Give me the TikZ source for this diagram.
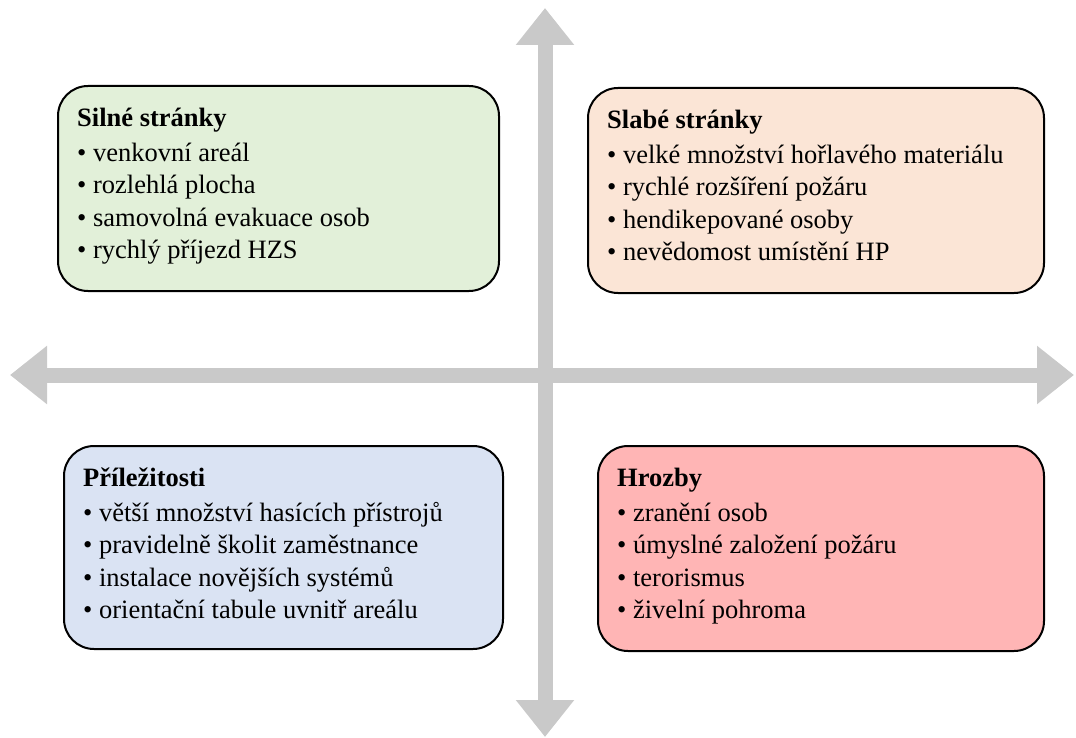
\documentclass[tikz,border=0pt]{standalone}
\usepackage{fontspec}
\setmainfont{Liberation Serif}
\usetikzlibrary{arrows.meta}
\definecolor{strongfill}{HTML}{E2F0D9}
\definecolor{weakfill}{HTML}{FBE5D6}
\definecolor{chancefill}{HTML}{DAE3F3}
\definecolor{threatfill}{HTML}{FFB5B5}
\definecolor{axisgray}{HTML}{C9C9C9}
\tikzset{
  quad/.style={draw=black, line width=2pt, rounded corners=30pt,
               anchor=north west, inner sep=0pt},
  quadtext/.style={anchor=north west, align=left, inner sep=0pt,
                   font=\fontsize{26.5}{32.5}\selectfont},
  axisline/.style={draw=axisgray, line width=15pt,
                   {Triangle[width=56pt,length=37pt]}-{Triangle[width=56pt,length=37pt]}},
}

\begin{document}
\begin{tikzpicture}[x=1pt, y=-1pt]
    \useasboundingbox (0,0) rectangle (1076,738);
    % axes
    \coordinate (ytop) at (545,8);
    \coordinate (ybot) at (545,737);
    \coordinate (xleft) at (10,375);
    \coordinate (xright) at (1074,375);
    \draw[axisline] (ybot) -- (ytop);
    \draw[axisline] (xleft) -- (xright);
    % quadrants
    \node[quad, fill=strongfill, minimum width=441pt, minimum height=205pt] (s) at (57,85) {};
    \node[quad, fill=weakfill, minimum width=456pt, minimum height=205pt] (w) at (587,87) {};
    \node[quad, fill=chancefill, minimum width=439pt, minimum height=203pt] (o) at (63,445) {};
    \node[quad, fill=threatfill, minimum width=446pt, minimum height=205pt] (t) at (597,445) {};
    \node[quadtext] (st) at ([xshift=20pt, yshift=-23pt]s.north west)
      {\textbf{Silné stránky}\\[2pt]
       • venkovní areál\\
       • rozlehlá plocha\\
       • samovolná evakuace osob\\
       • rychlý příjezd HZS};
    \node[quadtext] (wt) at ([xshift=20pt, yshift=-23pt]w.north west)
      {\textbf{Slabé stránky}\\[2pt]
       • velké množství hořlavého materiálu\\
       • rychlé rozšíření požáru\\
       • hendikepované osoby\\
       • nevědomost umístění HP};
    \node[quadtext] (ot) at ([xshift=20pt, yshift=-23pt]o.north west)
      {\textbf{Příležitosti}\\[2pt]
       • větší množství hasících přístrojů\\
       • pravidelně školit zaměstnance\\
       • instalace novějších systémů\\
       • orientační tabule uvnitř areálu};
    \node[quadtext] (tt) at ([xshift=20pt, yshift=-23pt]t.north west)
      {\textbf{Hrozby}\\[2pt]
       • zranění osob\\
       • úmyslné založení požáru\\
       • terorismus\\
       • živelní pohroma};
  \end{tikzpicture}
\end{document}
